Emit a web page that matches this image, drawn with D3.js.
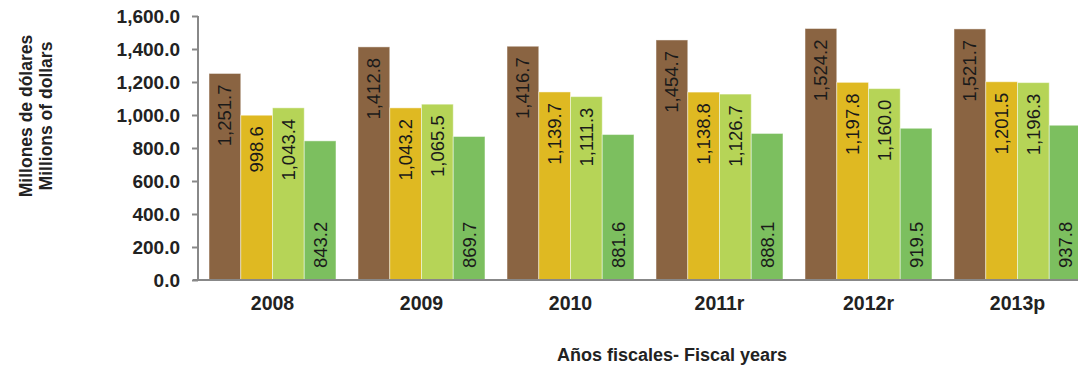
<!DOCTYPE html>
<html><head><meta charset="utf-8">
<script src="https://cdn.jsdelivr.net/npm/d3@7"></script>
<style>body{margin:0;background:#fff}svg{display:block;font-family:"Liberation Sans",Arial,sans-serif}</style>
</head><body>
<svg id="c" width="1078" height="366"></svg>
<script>
const years = ["2008","2009","2010","2011r","2012r","2013p"];
const seriesA = [1251.7,1412.8,1416.7,1454.7,1524.2,1521.7];
const seriesB = [998.6,1043.2,1139.7,1138.8,1197.8,1201.5];
const seriesC = [1043.4,1065.5,1111.3,1126.7,1160.0,1196.3];
const seriesD = [843.2,869.7,881.6,888.1,919.5,937.8];
const seriesNames = ["A","B","C","D"];
const colors = ["#8a6442","#dfb922","#b6d457","#7cbf5f"];
const yTicks = [0,200,400,600,800,1000,1200,1400,1600];

const svg = d3.select("#c");
const x0 = d3.scaleBand().domain(years).range([198,1092]).paddingInner(0.148).paddingOuter(0.074);
const x1 = d3.scaleBand().domain(seriesNames).range([0,x0.bandwidth()]);
const y = d3.scaleLinear().domain([0,1600]).range([280,16]);
const fmt = d3.format(",.1f");

const data = [seriesA,seriesB,seriesC,seriesD];
const g = svg.append("g");
years.forEach((yr,i)=>{
  const gg = g.append("g").attr("transform",`translate(${x0(yr)},0)`);
  seriesNames.forEach((s,j)=>{
    const v = data[j][i];
    gg.append("rect").attr("x",x1(s)).attr("y",y(v)).attr("width",x1.bandwidth()).attr("height",y(0)-y(v))
      .attr("fill",colors[j]).attr("stroke","rgba(255,255,255,0.45)").attr("stroke-width",1);
    const cx = x1(s)+x1.bandwidth()/2;
    let ty, anchor;
    if(j===3){ ty = y(0)-12; anchor="start"; } else { ty = y(v)+11; anchor="end"; }
    gg.append("text").attr("transform",`translate(${cx},${ty}) rotate(-90)`)
      .attr("text-anchor",anchor).attr("dominant-baseline","central")
      .attr("font-size",18.5).attr("fill","#1a1a1a").text(fmt(v));
  });
});

// axes
const yAxis = svg.append("g").attr("transform","translate(198,0)")
  .call(d3.axisLeft(y).tickValues(yTicks).tickFormat(fmt).tickSize(6).tickPadding(12));
yAxis.select(".domain").attr("stroke","#888").attr("stroke-width",2).attr("d","M0,16V280");
yAxis.selectAll(".tick line").attr("stroke","#888").attr("stroke-width",2);
yAxis.selectAll(".tick text").attr("font-size",19).attr("font-weight","bold").attr("fill","#222")
  .attr("font-family","Liberation Sans, Arial, sans-serif");

const xAxis = svg.append("g").attr("transform","translate(0,280)")
  .call(d3.axisBottom(x0).tickSize(0).tickPadding(16));
xAxis.select(".domain").attr("stroke","#888").attr("stroke-width",2).attr("d","M193,0H1078");
xAxis.selectAll(".tick text").attr("font-size",19.5).attr("font-weight","bold").attr("fill","#222")
  .attr("font-family","Liberation Sans, Arial, sans-serif");

// titles
svg.append("text").attr("transform","translate(26,116) rotate(-90)").attr("text-anchor","middle")
  .attr("dominant-baseline","central").attr("font-size",17.5).attr("font-weight","bold").attr("fill","#222")
  .text("Millones de dólares");
svg.append("text").attr("transform","translate(46,116) rotate(-90)").attr("text-anchor","middle")
  .attr("dominant-baseline","central").attr("font-size",17.5).attr("font-weight","bold").attr("fill","#222")
  .text("Millions of dollars");
svg.append("text").attr("x",672).attr("y",361).attr("text-anchor","middle")
  .attr("font-size",18).attr("font-weight","bold").attr("fill","#222").text("Años fiscales- Fiscal years");
</script>
</body></html>
